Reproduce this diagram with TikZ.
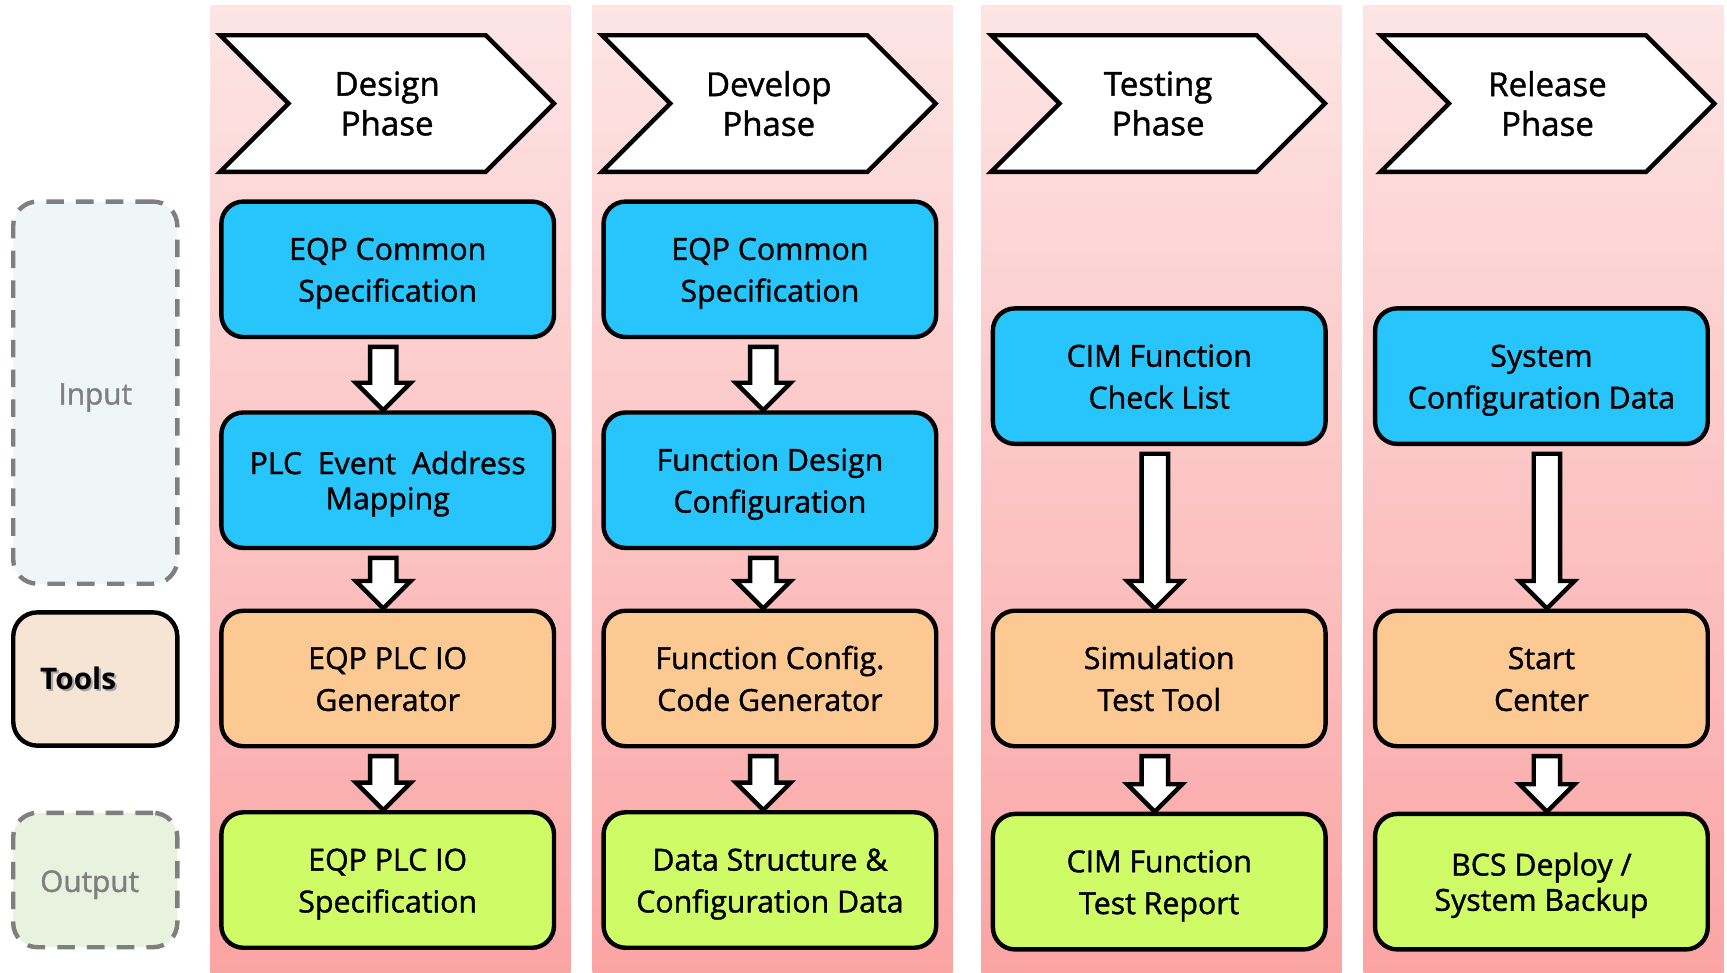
\documentclass[tikz,border=0pt]{standalone}
\usepackage{fontspec}
\setmainfont{Open Sans}
\newfontfamily\lbl{Open Sans}[FakeBold=1.3]
\usetikzlibrary{shapes.symbols,calc}
\definecolor{inblue}{HTML}{28C5FD}
\definecolor{toolor}{HTML}{FDC993}
\definecolor{outgr}{HTML}{CFFC66}
\definecolor{coltop}{HTML}{FDE5E5}
\definecolor{colbot}{HTML}{FBA4A4}
\definecolor{dashg}{HTML}{7F7F7F}
\tikzset{
  box/.style={draw=black, line width=4pt, rounded corners=20pt, minimum width=302pt,
    minimum height=123pt, align=center, inner sep=0pt,
    font=\lbl\fontsize{27.5}{38}\selectfont, text height=66.8pt, text depth=8pt},
  tight/.style={font=\lbl\fontsize{27.5}{32}\selectfont, text height=60.8pt, text depth=8pt},
  inbox/.style={box, fill=inblue},
  toolbox/.style={box, fill=toolor},
  outbox/.style={box, fill=outgr},
  phase/.style={shape=signal, signal to=east, signal from=west, signal pointer angle=90,
    draw=black, line width=4pt, fill=white, minimum width=303pt, minimum height=124pt,
    align=center, inner sep=0pt, font=\lbl\fontsize{30}{36}\selectfont},
  lab/.style={rounded corners=22pt, minimum width=149pt, line width=4pt, inner sep=0pt,
    font=\lbl\fontsize{27}{32}\selectfont},
  dlab/.style={lab, draw=dashg, dash pattern=on 16pt off 11pt, text=dashg,
    execute at begin node={\rule{0pt}{28pt}}},
  barrow/.style={draw=black, fill=white, line width=4pt, line join=miter},
  colstrip/.style={top color=coltop, bottom color=colbot}
}
\newcommand\blkarrow[3]{%
  \draw[barrow] let \p1=($(#1.south)+(#3,7)$), \p2=($(#2.north)+(#3,0)$) in
    (\x1-12pt,\y1) -- (\x1+12pt,\y1) -- (\x1+12pt,\y2+25pt) -- (\x1+25pt,\y2+25pt)
    -- (\x1,\y2) -- (\x1-25pt,\y2+25pt) -- (\x1-12pt,\y2+25pt) -- cycle;}
\begin{document}
\begin{tikzpicture}[x=1pt,y=-1pt]
\useasboundingbox (0,0) rectangle (1568,883);
% column strips
\shade[colstrip] (191,5) rectangle (518,883);
\shade[colstrip] (538,5) rectangle (865,883);
\shade[colstrip] (891,5) rectangle (1218,883);
\shade[colstrip] (1238,5) rectangle (1565,883);
% left labels
\node[dlab, fill={rgb,255:red,238;green,246;blue,248}, minimum height=347pt] (input) at (86.5,356.5) {Input};
\node[lab, draw=black, fill={rgb,255:red,246;green,228;blue,212}, minimum height=121pt, font=\bfseries\fontsize{27}{32}\selectfont] (tools) at (86.5,616.5) {\makebox[100pt][l]{\rlap{\hspace{2pt}\raisebox{-2pt}{\color{black!35}Tools}}Tools}};
\node[dlab, fill={rgb,255:red,232;green,242;blue,222}, minimum height=122pt] (output) at (86.5,799) {\makebox[100pt][l]{Output}};
% phases
\node[phase] (ph1) at (351.5,94) {Design\\Phase};
\node[phase] (ph2) at (698,94) {Develop\\Phase};
\node[phase] (ph3) at (1051.5,94) {Testing\\Phase};
\node[phase] (ph4) at (1405,94) {Release\\Phase};
% column 1
\node[inbox] (a1) at (352,244.5) {EQP Common\\Specification};
\node[inbox, tight] (a2) at (352,436) {PLC\ \ Event\ \ Address\\Mapping};
\node[toolbox] (a3) at (352,616) {EQP PLC IO\\Generator};
\node[outbox] (a4) at (352,799) {EQP PLC IO\\Specification};
% column 2
\node[inbox] (b1) at (699,244.5) {EQP Common\\Specification};
\node[inbox] (b2) at (699,436) {Function Design\\Configuration};
\node[toolbox] (b3) at (699,616) {Function Config.\\Code Generator};
\node[outbox] (b4) at (699,799) {Data Structure \&\\Configuration Data};
% column 3
\node[inbox] (c1) at (1052.5,341.5) {CIM Function\\Check List};
\node[toolbox] (c3) at (1052.5,616) {Simulation\\Test Tool};
\node[outbox] (c4) at (1052.5,800.5) {CIM Function\\Test Report};
% column 4
\node[inbox] (d1) at (1399.5,341.5) {System\\Configuration Data};
\node[toolbox] (d3) at (1399.5,616) {Start\\Center};
\node[outbox, tight] (d4) at (1399.5,800.5) {BCS Deploy /\\System Backup};
% arrows
\blkarrow{a1}{a2}{-4}
\blkarrow{a2}{a3}{-4}
\blkarrow{a3}{a4}{-4}
\blkarrow{b1}{b2}{-6}
\blkarrow{b2}{b3}{-6}
\blkarrow{b3}{b4}{-6}
\blkarrow{c1}{c3}{-4}
\blkarrow{c3}{c4}{-4}
\blkarrow{d1}{d3}{5}
\blkarrow{d3}{d4}{5}
\end{tikzpicture}
\end{document}
